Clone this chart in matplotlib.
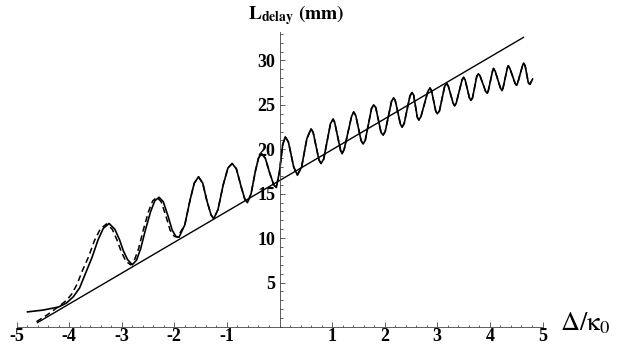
import numpy as np
import matplotlib
matplotlib.use("Agg")
import matplotlib.pyplot as plt
from matplotlib.ticker import MultipleLocator

plt.rcParams['mathtext.fontset'] = 'stix'
plt.rcParams['axes.unicode_minus'] = False

# solid curve, points (x, L)
sol_pts = [(-4.79, 1.7), (-4.5, 1.9), (-4.2, 2.25), (-4.05, 2.7), (-3.92, 3.4), (-3.8, 4.4),
           (-3.69, 6.0), (-3.56, 7.9), (-3.45, 9.8), (-3.35, 11.1), (-3.24, 11.65), (-3.13, 11.0),
           (-3.04, 9.8), (-2.97, 8.6), (-2.89, 7.6), (-2.80, 7.0), (-2.72, 7.5), (-2.64, 8.8),
           (-2.55, 10.9), (-2.45, 13.0), (-2.37, 14.2), (-2.29, 14.6), (-2.21, 14.1), (-2.12, 12.5),
           (-2.04, 10.9), (-1.97, 10.2), (-1.91, 10.1), (-1.80, 11.5), (-1.70, 14.3), (-1.62, 16.2),
           (-1.54, 16.9), (-1.46, 16.2), (-1.38, 14.2), (-1.30, 12.6), (-1.25, 12.2), (-1.17, 13.2),
           (-1.07, 16.0), (-0.98, 17.9), (-0.90, 18.4), (-0.82, 17.8), (-0.73, 15.8), (-0.66, 14.4),
           (-0.61, 14.0), (-0.54, 15.0), (-0.46, 17.5), (-0.40, 19.0), (-0.34, 19.5), (-0.27, 19.0),
           (-0.19, 17.4), (-0.11, 16.0), (-0.06, 15.7), (0.0, 17.5), (0.06, 20.5), (0.11, 21.4),
           (0.17, 20.8), (0.27, 18.0), (0.34, 17.1), (0.42, 18.0), (0.52, 21.2), (0.60, 22.3),
           (0.64, 21.9), (0.75, 18.8), (0.79, 18.4), (0.84, 18.9), (0.97, 22.9), (1.02, 23.4),
           (1.05, 23.0), (1.16, 19.9), (1.19, 19.5), (1.23, 20.0), (1.37, 23.7), (1.41, 24.2),
           (1.45, 23.8), (1.55, 21.0), (1.59, 20.6), (1.63, 21.0), (1.75, 24.6), (1.79, 25.0),
           (1.83, 24.7), (1.93, 21.9), (1.97, 21.6), (2.01, 22.0), (2.13, 25.4), (2.17, 25.8),
           (2.20, 25.5), (2.30, 22.8), (2.33, 22.5), (2.37, 22.9), (2.48, 26.0), (2.52, 26.4),
           (2.55, 26.1), (2.62, 23.6), (2.65, 23.3), (2.69, 23.7), (2.82, 26.5), (2.86, 26.9),
           (2.89, 26.6), (2.97, 24.3), (3.00, 24.0), (3.04, 24.3), (3.14, 27.1), (3.18, 27.4),
           (3.21, 27.1), (3.30, 25.2), (3.33, 24.9), (3.36, 25.2), (3.47, 27.8), (3.50, 28.1),
           (3.53, 27.8), (3.61, 25.8), (3.64, 25.5), (3.67, 25.8), (3.75, 28.2), (3.78, 28.5),
           (3.81, 28.3), (3.92, 26.5), (3.95, 26.3), (3.97, 26.6), (4.05, 28.8), (4.07, 29.1),
           (4.10, 28.8), (4.20, 26.9), (4.23, 26.6), (4.25, 26.9), (4.33, 29.1), (4.35, 29.4),
           (4.38, 29.1), (4.48, 27.4), (4.51, 27.2), (4.53, 27.5), (4.62, 29.4), (4.64, 29.7),
           (4.67, 29.4), (4.73, 27.5), (4.76, 27.3), (4.81, 27.9)]

# dashed curve: differs only on the left, then follows the solid one
dash_left_pts = [(-4.62, 0.6), (-4.42, 1.35), (-4.2, 2.3), (-4.05, 3.0), (-3.95, 3.7), (-3.85, 4.8),
                 (-3.75, 6.3), (-3.63, 7.9), (-3.52, 9.7), (-3.41, 11.0), (-3.29, 11.6), (-3.18, 11.0),
                 (-3.09, 9.8), (-3.01, 8.5), (-2.92, 7.4), (-2.83, 7.0), (-2.76, 7.5), (-2.68, 8.8),
                 (-2.59, 10.9), (-2.49, 13.0), (-2.41, 14.2), (-2.33, 14.6), (-2.25, 14.1), (-2.16, 12.5),
                 (-2.08, 10.9), (-2.00, 10.2), (-1.94, 10.1)]

# straight reference line
line_x = [-4.6, 4.64]
line_y = [0.5, 32.6]

xticks = [-5, -4, -3, -2, -1, 1, 2, 3, 4, 5]
yticks = [5, 10, 15, 20, 25, 30]

sol_x, sol_y = zip(*sol_pts)
dash_pts = dash_left_pts + [p for p in sol_pts if p[0] > -1.85]
dash_x, dash_y = zip(*dash_pts)

fig = plt.figure(figsize=(6.18, 3.52), dpi=100)
ax = fig.add_axes([16.5/618, 1-327/352, (542.5-16.5)/618, (327-32)/352])

ax.plot(line_x, line_y, color='black', lw=1.0)
ax.plot(dash_x, dash_y, color='black', lw=1.1, ls=(0, (4, 2.5)))
ax.plot(sol_x, sol_y, color='black', lw=1.2, solid_joinstyle='round')

ax.set_xlim(-5, 5)
ax.set_ylim(0, 33.2)
ax.spines['top'].set_visible(False)
ax.spines['right'].set_visible(False)
ax.spines['left'].set_position(('data', 0))
for s in ['left', 'bottom']:
    ax.spines[s].set_linewidth(0.6)
    ax.spines[s].set_color('#444444')

ax.set_xticks(xticks)
ax.set_yticks(yticks)
ax.xaxis.set_minor_locator(MultipleLocator(0.2))
ax.yaxis.set_minor_locator(MultipleLocator(1))
ax.tick_params(which='both', direction='in', color='#444444', width=0.6)
ax.tick_params(which='major', length=3.5)
ax.tick_params(which='minor', length=1.8)
ax.tick_params(axis='x', pad=1)
ax.tick_params(axis='y', pad=3)
for lab in ax.get_xticklabels() + ax.get_yticklabels():
    lab.set_fontfamily('Liberation Serif')
    lab.set_fontweight('bold')
    lab.set_fontsize(13)

fig.text(296/618, 1-15/352, r'$\mathbf{L_{delay}\ (mm)}$', ha='center', va='center', fontsize=14)
fig.text(560/618, 1-323/352, r'$\Delta/\mathrm{\kappa}_0$', ha='left', va='center', fontsize=19)

fig.savefig('out.png', dpi=100)
